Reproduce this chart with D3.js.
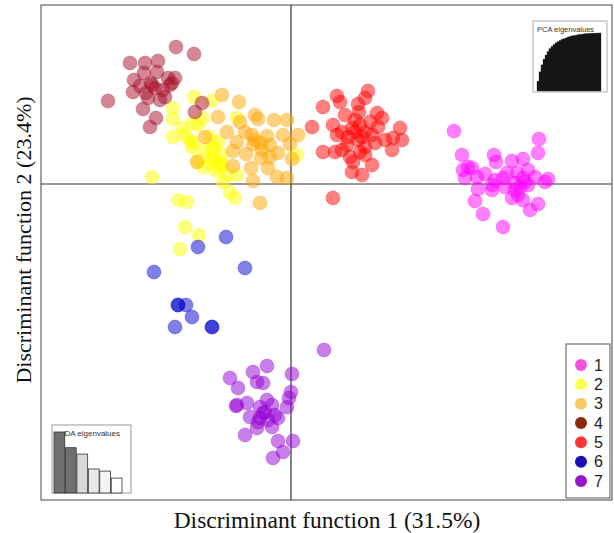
<!DOCTYPE html>
<html>
<head>
<meta charset="utf-8">
<script src="https://cdn.jsdelivr.net/npm/d3@7"></script>
<style>
  body { margin: 0; background: #fff; }
  svg { display: block; }
</style>
</head>
<body>
<svg id="chart" width="614" height="533"></svg>
<script>
// group labels and colours
let groups = ["1", "2", "3", "4", "5", "6", "7"];
let colors = ["#ff00ff", "#ffff00", "#ffa500", "#a8102a", "#ff0000", "#0000cd", "#9400d3"];
let legendColors = ["#f052dc", "#ffff55", "#f9c965", "#8b2a0a", "#ff3535", "#1a10b4", "#9414c8"];

// individual coordinates on the two discriminant functions [LD1, LD2]
let g1 = [[16.3,5.3],[24.8,4.5],[24.7,3.1],[17.1,2.9],[20.3,2.9],[20.5,2.2],[22.1,2.3],[23.2,2.5],
  [17.7,1.7],[17.2,1.4],[18.1,1.6],[19.4,1.0],[21.6,1.1],[22.6,1.1],[23.7,1.4],[17.4,0.6],[18.6,0.7],
  [20.4,0.4],[21.2,0.6],[23.2,0.6],[24.4,0.7],[25.7,0.5],[25.4,0.2],[20.1,-0.1],[22.4,0.1],[23.4,0.2],
  [18.7,-0.5],[20.1,-0.6],[21.4,-0.3],[22.4,-0.6],[22.7,-1.1],[22.1,-1.4],[18.4,-1.7],[23.2,-1.6],
  [24.7,-2.0],[23.9,-2.6],[19.2,-3.0],[21.2,-4.3],[23.7,-0.1],[22.9,-0.3]];
let g2 = [[-9.7,8.7],[-11.8,7.6],[-11.8,6.5],[-9.8,6.1],[-8.8,6.6],[-11.8,4.7],[-10.6,4.9],[-10.1,4.4],
  [-9.8,4.1],[-9.9,3.7],[-8.1,4.7],[-7.9,3.4],[-7.6,3.7],[-9.3,2.4],[-8.1,2.1],[-7.1,1.6],[-6.9,2.9],
  [-7.9,2.7],[-7.1,2.1],[-8.8,1.7],[-7.6,1.4],[-6.4,0.9],[-5.4,0.9],[-6.8,0.2],[-6.1,-0.8],[-5.6,-1.4],
  [-13.9,0.7],[-11.3,-1.6],[-10.4,-1.8],[0.6,2.9],[-5.4,6.6],[-9.3,5.9],[-10.6,-4.3],[-9.2,-5.1],
  [-11.1,-6.5],[-6.9,1.9],[-7.6,2.4],[-8.6,3.4],[-7.3,4.2],[-7.9,8.3],[-10.9,5.6]];
let g3 = [[-6.9,8.9],[-5.2,8.2],[-7.3,6.7],[-5.1,6.2],[-3.6,6.9],[-3.3,6.5],[-1.7,6.4],[-0.4,6.4],
  [-6.4,5.2],[-4.6,5.2],[-3.9,4.9],[-2.4,4.8],[-0.8,4.9],[0.7,4.9],[-5.4,4.2],[-3.8,4.0],[-3.0,4.1],
  [-0.1,4.0],[-5.8,3.3],[-4.5,3.0],[-3.0,2.6],[-2.1,2.7],[-1.3,3.1],[0.1,2.5],[-5.8,1.8],[-4.0,1.6],
  [-2.3,1.6],[-1.4,0.7],[-0.4,0.6],[-3.8,0.3],[-3.1,-1.9],[-8.6,4.7],[-9.4,2.2],[-3.6,4.4],[-2.9,3.4],
  [-2.1,3.9]];
let g4 = [[-11.5,13.7],[-9.7,13.0],[-16.1,12.1],[-14.6,12.1],[-13.3,12.3],[-14.7,11.1],[-13.4,11.2],
  [-11.6,10.6],[-15.7,10.4],[-14.0,10.1],[-11.9,10.1],[-15.8,9.2],[-14.5,9.1],[-12.8,9.4],[-14.3,8.6],
  [-12.6,8.7],[-18.3,8.3],[-14.8,7.5],[-13.5,6.6],[-14.1,5.7],[-8.9,8.1],[-9.6,7.2],[-15.1,9.8],
  [-13.6,9.6],[-12.3,10.6],[-13.1,8.4],[-12.1,9.9],[-13.9,9.9]];
let g5 = [[7.7,9.3],[4.6,8.8],[7.4,8.6],[4.9,8.2],[3.2,7.7],[6.7,8.0],[6.8,7.2],[5.4,6.9],[8.6,7.1],
  [9.1,6.6],[6.4,6.4],[7.9,6.2],[4.2,5.9],[2.1,5.7],[8.7,5.7],[10.9,5.6],[5.1,5.2],[6.4,5.2],[7.4,5.2],
  [8.1,4.9],[4.6,4.9],[5.7,4.7],[10.2,4.6],[11.1,4.4],[9.4,4.4],[6.7,4.4],[8.4,4.1],[5.6,3.9],[7.4,3.7],
  [3.2,3.2],[4.4,3.2],[5.1,3.4],[6.9,3.2],[10.1,3.4],[5.9,2.7],[7.4,2.9],[6.2,2.2],[8.1,1.9],[6.1,1.2],
  [7.1,0.9],[4.2,-1.4],[6.9,5.9],[7.1,4.7],[6.1,5.6]];
let g6 = [[-6.5,-5.3],[-9.3,-6.3],[-13.7,-8.8],[-4.6,-8.4],[-11.3,-12.1],[-11.3,-12.1],[-10.5,-12.1],
  [-9.9,-13.3],[-11.6,-14.3],[-7.9,-14.3],[-7.9,-14.3]];
let g7 = [[3.3,-16.6],[-2.4,-18.2],[-6.1,-19.4],[-3.8,-18.8],[-3.4,-19.8],[-2.8,-19.9],[0.1,-19.0],
  [-5.3,-20.4],[0.0,-20.8],[-0.2,-21.4],[-5.4,-22.1],[-5.5,-22.2],[-4.4,-21.9],[-2.4,-21.6],[-3.1,-22.3],
  [-1.9,-22.1],[-0.4,-22.3],[-4.1,-23.3],[-2.8,-22.9],[-1.6,-23.1],[-1.3,-23.4],[-3.3,-23.8],[-2.3,-23.6],
  [-1.9,-24.3],[-3.4,-24.4],[-4.6,-25.1],[-1.3,-25.7],[0.2,-25.7],[-0.8,-26.8],[-1.8,-27.4],[-3.1,-23.4],
  [-2.6,-22.8]];
let groupPoints = [g1, g2, g3, g4, g5, g6, g7];

// axis titles
let xAxisName = "Discriminant function 1 (31.5%)";
let yAxisName = "Discriminant function 2 (23.4%)";

// inset eigenvalue plots
let daEigen = [31.5, 23.4, 20.1, 12.4, 11.3, 7.7];
let daFill = ["#707070", "#707070", "#d9d9d9", "#e8e8e8", "#f4f4f4", "#ffffff"];
let pcaCum = [0.17,0.33,0.45,0.55,0.62,0.68,0.73,0.77,0.80,0.83,0.85,0.87,0.89,0.90,0.915,0.93,
  0.94,0.95,0.955,0.96,0.97,0.975,0.98,0.985,0.988,0.99,0.993,0.995,0.997,0.998,1.0,1.0];

let svg = d3.select("#chart");

// plot frame
let plotLeft = 41, plotRight = 612, plotTop = 5, plotBottom = 500;

let xScale = d3.scaleLinear().domain([-25.0, 32.1]).range([plotLeft, plotRight]);
let yScale = d3.scaleLinear().domain([-31.6, 17.9]).range([plotBottom, plotTop]);

// zero lines
svg.append("line")
  .attr("x1", xScale(0)).attr("x2", xScale(0))
  .attr("y1", plotTop).attr("y2", plotBottom)
  .attr("stroke", "#333").attr("stroke-width", 1.2);
svg.append("line")
  .attr("x1", plotLeft).attr("x2", plotRight)
  .attr("y1", yScale(0)).attr("y2", yScale(0))
  .attr("stroke", "#333").attr("stroke-width", 1.2);

// points
groupPoints.forEach(function(pts, i) {
  svg.append("g").selectAll("circle")
    .data(pts)
    .enter()
    .append("circle")
    .attr("cx", d => xScale(d[0]))
    .attr("cy", d => yScale(d[1]))
    .attr("r", 7)
    .attr("fill", colors[i])
    .attr("fill-opacity", 0.5)
    .attr("stroke", colors[i])
    .attr("stroke-opacity", 0.35)
    .attr("stroke-width", 0.8);
});

svg.append("rect")
  .attr("x", plotLeft).attr("y", plotTop)
  .attr("width", plotRight - plotLeft).attr("height", plotBottom - plotTop)
  .attr("fill", "none").attr("stroke", "#444").attr("stroke-width", 1);

// legend
let lg = svg.append("g");
lg.append("rect")
  .attr("x", 566).attr("y", 344).attr("width", 44).attr("height", 154)
  .attr("fill", "#fff").attr("stroke", "#555").attr("stroke-width", 1);
let legendY = d3.scalePoint().domain(groups).range([365, 481]);
lg.selectAll(".lc").data(groups).enter().append("circle")
  .attr("cx", 581).attr("cy", d => legendY(d)).attr("r", 6)
  .attr("fill", (d, i) => legendColors[i]);
lg.selectAll(".lt").data(groups).enter().append("text")
  .attr("x", 594).attr("y", d => legendY(d) + 5.5)
  .attr("font-family", "Liberation Sans, Arial, sans-serif")
  .attr("font-size", 16).attr("fill", "#222")
  .text(d => d);

// DA eigenvalues inset
let da = svg.append("g");
da.append("rect").attr("x", 52).attr("y", 425).attr("width", 79).attr("height", 68)
  .attr("fill", "#fff").attr("stroke", "#999").attr("stroke-width", 1);
let daX = d3.scaleBand().domain(d3.range(daEigen.length)).range([54, 122]).paddingInner(0.06);
let daY = d3.scaleLinear().domain([0, d3.max(daEigen)]).range([493, 432]);
da.selectAll("rect.bar").data(daEigen).enter().append("rect")
  .attr("class", "bar")
  .attr("x", (d, i) => daX(i)).attr("width", daX.bandwidth())
  .attr("y", d => daY(d)).attr("height", d => 493 - daY(d))
  .attr("fill", (d, i) => daFill[i]).attr("stroke", "#333").attr("stroke-width", 0.8);
da.append("text").attr("x", 120).attr("y", 436).attr("text-anchor", "end")
  .attr("font-family", "Liberation Sans, Arial, sans-serif").attr("font-size", 8)
  .attr("fill", "#333").text("DA eigenvalues");

// PCA eigenvalues inset
let pca = svg.append("g");
pca.append("rect").attr("x", 533).attr("y", 21).attr("width", 74).attr("height", 71)
  .attr("fill", "#fff").attr("stroke", "#aaa").attr("stroke-width", 1);
let pcaX = d3.scaleBand().domain(d3.range(pcaCum.length)).range([537, 601]).padding(0);
let pcaY = d3.scaleLinear().domain([0, 1]).range([91, 33]);
pca.selectAll("rect.bar").data(pcaCum).enter().append("rect")
  .attr("class", "bar")
  .attr("x", (d, i) => pcaX(i)).attr("width", pcaX.bandwidth())
  .attr("y", d => pcaY(d)).attr("height", d => 91 - pcaY(d))
  .attr("fill", "#111").attr("stroke", "#2a2a2a").attr("stroke-width", 0.3);
pca.append("text").attr("x", 537).attr("y", 32)
  .attr("font-family", "Liberation Sans, Arial, sans-serif").attr("font-size", 7.5)
  .attr("fill", "#333").text("PCA eigenvalues");

// axis titles
svg.append("text")
  .attr("x", 327).attr("y", 528)
  .attr("text-anchor", "middle")
  .attr("font-family", "Liberation Serif, Times New Roman, serif")
  .attr("font-size", 23.5).attr("fill", "#111")
  .text(xAxisName);
svg.append("text")
  .attr("transform", "translate(31,240) rotate(-90)")
  .attr("text-anchor", "middle")
  .attr("font-family", "Liberation Serif, Times New Roman, serif")
  .attr("font-size", 22).attr("fill", "#111")
  .text(yAxisName);
</script>
</body>
</html>
